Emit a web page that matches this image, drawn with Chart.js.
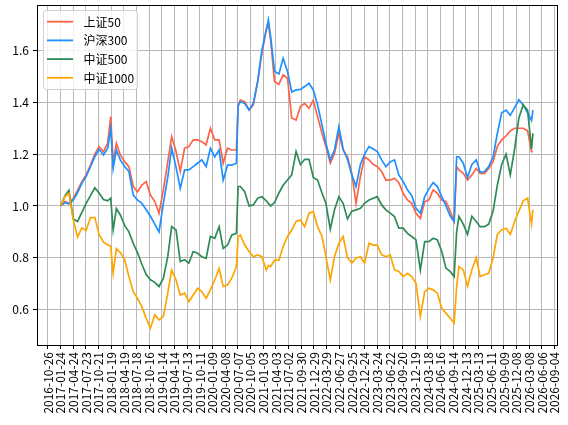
<!DOCTYPE html>
<html>
<head>
<meta charset="utf-8">
<script src="https://cdn.jsdelivr.net/npm/chart.js@4.4.1/dist/chart.umd.min.js"></script>
<style>
  html, body { margin: 0; padding: 0; background: #fff; }
</style>
</head>
<body>
<canvas id="c" width="568" height="425"></canvas>
<script>
// trading dates (approx. monthly, plus a few around the big moves)
const dates = [
  '2017-01-24','2017-02-24','2017-03-24','2017-04-24','2017-05-24','2017-06-24','2017-07-24','2017-08-24','2017-09-24','2017-10-24','2017-11-24','2017-12-24',
  '2018-01-15','2018-02-01','2018-02-24','2018-03-24','2018-04-24','2018-05-24','2018-06-24','2018-07-24','2018-08-24','2018-09-24','2018-10-24','2018-11-24','2018-12-24',
  '2019-01-24','2019-02-24','2019-03-24','2019-04-24','2019-05-24','2019-06-24','2019-07-24','2019-08-24','2019-09-24','2019-10-24','2019-11-24','2019-12-24',
  '2020-01-24','2020-02-24','2020-03-24','2020-04-24','2020-05-24','2020-06-26','2020-07-08','2020-07-24','2020-08-24','2020-09-24','2020-10-24','2020-11-24','2020-12-24',
  '2021-01-24','2021-02-08','2021-02-24','2021-03-24','2021-04-24','2021-05-24','2021-06-24','2021-07-24','2021-08-24','2021-09-24','2021-10-24','2021-11-24','2021-12-24',
  '2022-01-24','2022-02-24','2022-03-24','2022-04-24','2022-05-24','2022-06-24','2022-07-24','2022-08-24','2022-09-24','2022-10-24','2022-11-24','2022-12-24',
  '2023-01-24','2023-02-24','2023-03-24','2023-04-24','2023-05-24','2023-06-24','2023-07-24','2023-08-24','2023-09-24','2023-10-24','2023-11-24','2023-12-24',
  '2024-01-24','2024-02-24','2024-03-24','2024-04-24','2024-05-24','2024-06-24','2024-07-24','2024-08-24','2024-09-20','2024-10-08','2024-10-24','2024-11-24','2024-12-24',
  '2025-01-24','2025-02-24','2025-03-24','2025-04-24','2025-05-24','2025-06-24','2025-07-24','2025-08-24','2025-09-24','2025-10-24','2025-11-24','2025-12-24',
  '2026-01-24','2026-02-24','2026-03-24','2026-04-03'
];

const sz50 = [
  1.000,1.017,1.010,1.030,1.060,1.094,1.120,1.158,1.200,1.229,1.210,1.242,
  1.345,1.165,1.242,1.197,1.171,1.152,1.075,1.055,1.081,1.094,1.042,1.017,0.972,
  1.062,1.170,1.268,1.210,1.133,1.223,1.229,1.255,1.255,1.248,1.236,1.300,
  1.255,1.255,1.165,1.223,1.216,1.216,1.390,1.409,1.403,1.371,1.390,1.480,1.589,
  1.680,1.705,1.641,1.480,1.470,1.506,1.493,1.340,1.332,1.384,1.396,1.377,1.409,
  1.345,1.281,1.229,1.165,1.203,1.281,1.216,1.190,1.126,1.010,1.113,1.190,
  1.178,1.160,1.152,1.133,1.100,1.100,1.107,1.090,1.049,1.023,1.010,0.972,
  0.952,1.017,1.023,1.062,1.049,1.023,1.017,0.978,0.940,1.152,1.139,1.126,1.100,
  1.120,1.145,1.126,1.126,1.145,1.171,1.230,1.255,1.270,1.290,1.300,1.300,
  1.300,1.290,1.210,1.210
];

const hs300 = [
  1.000,1.013,1.008,1.023,1.051,1.088,1.113,1.152,1.190,1.219,1.197,1.223,
  1.300,1.145,1.216,1.178,1.152,1.133,1.042,1.023,1.010,0.985,0.960,0.930,0.900,
  1.010,1.110,1.223,1.150,1.068,1.139,1.139,1.152,1.165,1.178,1.152,1.223,
  1.190,1.216,1.100,1.158,1.158,1.165,1.385,1.403,1.396,1.371,1.396,1.480,1.602,
  1.680,1.718,1.654,1.520,1.510,1.570,1.519,1.440,1.448,1.450,1.461,1.474,1.448,
  1.390,1.313,1.242,1.178,1.216,1.306,1.220,1.180,1.120,1.075,1.160,1.200,
  1.229,1.220,1.210,1.178,1.152,1.170,1.178,1.120,1.094,1.062,1.040,0.991,
  0.972,1.036,1.065,1.090,1.075,1.036,1.000,0.960,0.940,1.190,1.190,1.165,1.110,
  1.160,1.178,1.130,1.133,1.152,1.190,1.280,1.360,1.370,1.350,1.380,1.410,
  1.390,1.360,1.330,1.370
];

const zz500 = [
  1.000,1.040,1.060,0.950,0.940,0.975,1.010,1.040,1.070,1.050,1.025,1.020,
  1.030,0.907,0.990,0.965,0.925,0.900,0.855,0.820,0.775,0.735,0.715,0.705,0.689,
  0.721,0.804,0.920,0.907,0.785,0.792,0.779,0.824,0.817,0.804,0.798,0.882,
  0.875,0.920,0.836,0.849,0.888,0.894,1.075,1.075,1.055,1.000,1.004,1.030,1.036,
  1.020,1.010,1.000,1.013,1.050,1.080,1.100,1.120,1.210,1.160,1.180,1.180,1.110,
  1.100,1.050,1.010,0.910,0.985,1.036,1.010,0.950,0.980,0.985,0.991,1.010,
  1.023,1.030,1.036,1.004,0.985,0.972,0.959,0.914,0.914,0.894,0.882,0.869,
  0.753,0.862,0.862,0.875,0.869,0.824,0.760,0.746,0.727,0.900,0.960,0.930,0.890,
  0.960,0.940,0.920,0.920,0.930,0.980,1.080,1.160,1.200,1.120,1.220,1.340,
  1.390,1.370,1.220,1.280
];

const zz1000 = [
  1.000,1.036,1.049,0.946,0.880,0.915,0.905,0.955,0.955,0.890,0.860,0.850,
  0.843,0.740,0.835,0.820,0.792,0.727,0.669,0.643,0.611,0.566,0.528,0.579,0.560,
  0.573,0.663,0.753,0.714,0.656,0.663,0.631,0.656,0.682,0.669,0.643,0.676,
  0.714,0.759,0.689,0.695,0.721,0.766,0.882,0.888,0.849,0.824,0.804,0.811,0.804,
  0.753,0.770,0.766,0.791,0.791,0.843,0.882,0.907,0.940,0.946,0.920,0.972,0.978,
  0.920,0.882,0.804,0.714,0.804,0.856,0.882,0.800,0.780,0.798,0.804,0.779,
  0.856,0.849,0.849,0.811,0.804,0.811,0.753,0.747,0.727,0.740,0.727,0.701,
  0.573,0.669,0.682,0.676,0.663,0.605,0.586,0.566,0.547,0.689,0.766,0.753,0.690,
  0.753,0.800,0.727,0.734,0.740,0.800,0.890,0.907,0.914,0.890,0.940,0.980,
  1.020,1.030,0.930,0.985
];

const names = ['上证50', '沪深300', '中证500', '中证1000'];
const colors = ['#ff6347', '#1e90ff', '#2e8b57', '#ffa500'];
const yTicks = [0.6, 0.8, 1.0, 1.2, 1.4, 1.6];

const DAY = 86400000;
const FONT = "'Noto Sans CJK SC', 'Noto Sans', sans-serif";
const xMin = Date.UTC(2016, 7, 9);
const xMax = Date.UTC(2026, 8, 21);
const yMin = 0.463, yMax = 1.776;

// date ticks every 90 days, like the original locator
const xTicks = [];
for (let t = Date.UTC(2016, 9, 26); t <= xMax; t += 90 * DAY) xTicks.push(t);

function pad(n) { return n < 10 ? '0' + n : '' + n }
function fmt(ms) {
  const d = new Date(ms);
  return d.getUTCFullYear() + '-' + pad(d.getUTCMonth() + 1) + '-' + pad(d.getUTCDate());
}

const xs = dates.map(d => Date.parse(d));
const series = [sz50, hs300, zz500, zz1000];

const datasets = series.map((vals, i) => ({
  label: names[i],
  data: vals.map((v, k) => ({ x: xs[k], y: v })),
  borderColor: colors[i],
  borderWidth: 1.7,
  pointRadius: 0,
  tension: 0,
  fill: false,
  order: series.length - i
}));

// frame + legend box drawn the matplotlib way
const boxLegend = {
  id: 'boxLegend',
  afterDraw(chart) {
    const ctx = chart.ctx, a = chart.chartArea;
    ctx.save();
    ctx.strokeStyle = '#000';
    ctx.lineWidth = 1;
    ctx.strokeRect(Math.round(a.left) + 0.5, Math.round(a.top) + 0.5,
      Math.round(a.right - a.left), Math.round(a.bottom - a.top));

    const bx = 43.5, by = 10.5, bw = 94, bh = 79, r = 3;
    ctx.beginPath();
    ctx.moveTo(bx + r, by);
    ctx.lineTo(bx + bw - r, by);
    ctx.quadraticCurveTo(bx + bw, by, bx + bw, by + r);
    ctx.lineTo(bx + bw, by + bh - r);
    ctx.quadraticCurveTo(bx + bw, by + bh, bx + bw - r, by + bh);
    ctx.lineTo(bx + r, by + bh);
    ctx.quadraticCurveTo(bx, by + bh, bx, by + bh - r);
    ctx.lineTo(bx, by + r);
    ctx.quadraticCurveTo(bx, by, bx + r, by);
    ctx.closePath();
    ctx.fillStyle = 'rgba(255,255,255,0.8)';
    ctx.fill();
    ctx.strokeStyle = '#d0d0d0';
    ctx.stroke();

    ctx.font = '12px ' + FONT;
    ctx.textBaseline = 'middle';
    ctx.fillStyle = '#000';
    chart.data.datasets.forEach((ds, i) => {
      const y = 21.7 + i * 18.7;
      ctx.beginPath();
      ctx.moveTo(47, y);
      ctx.lineTo(73, y);
      ctx.strokeStyle = ds.borderColor;
      ctx.lineWidth = 1.8;
      ctx.stroke();
      ctx.fillText(ds.label, 83.5, y + 0.5);
    });
    ctx.restore();
  }
};

new Chart(document.getElementById('c'), {
  type: 'line',
  data: { datasets },
  plugins: [boxLegend],
  options: {
    responsive: false,
    animation: false,
    devicePixelRatio: 1,
    layout: { padding: { left: 0, right: 11, top: 5, bottom: 0 } },
    plugins: { legend: { display: false }, tooltip: { enabled: false } },
    scales: {
      x: {
        type: 'linear',
        min: xMin,
        max: xMax,
        afterBuildTicks(s) { s.ticks = xTicks.map(v => ({ value: v })); },
        afterFit(s) { s.height = 80; s.paddingLeft = 0; s.paddingRight = 0; },
        grid: { color: '#b8b8b8', lineWidth: 1, tickLength: 4, tickColor: '#000' },
        border: { color: '#000', width: 1 },
        ticks: {
          autoSkip: false, maxRotation: 90, minRotation: 90, padding: 3,
          color: '#000', font: { family: FONT, size: 12 },
          callback: v => fmt(v)
        }
      },
      y: {
        min: yMin,
        max: yMax,
        afterBuildTicks(s) { s.ticks = yTicks.map(v => ({ value: v })); },
        afterFit(s) { s.width = 37; s.paddingTop = 0; s.paddingBottom = 0; },
        grid: { color: '#b8b8b8', lineWidth: 1, tickLength: 4, tickColor: '#000' },
        border: { color: '#000', width: 1 },
        ticks: {
          padding: 4, color: '#000', font: { family: FONT, size: 12 },
          callback: v => v.toFixed(1)
        }
      }
    }
  }
});
</script>
</body>
</html>
